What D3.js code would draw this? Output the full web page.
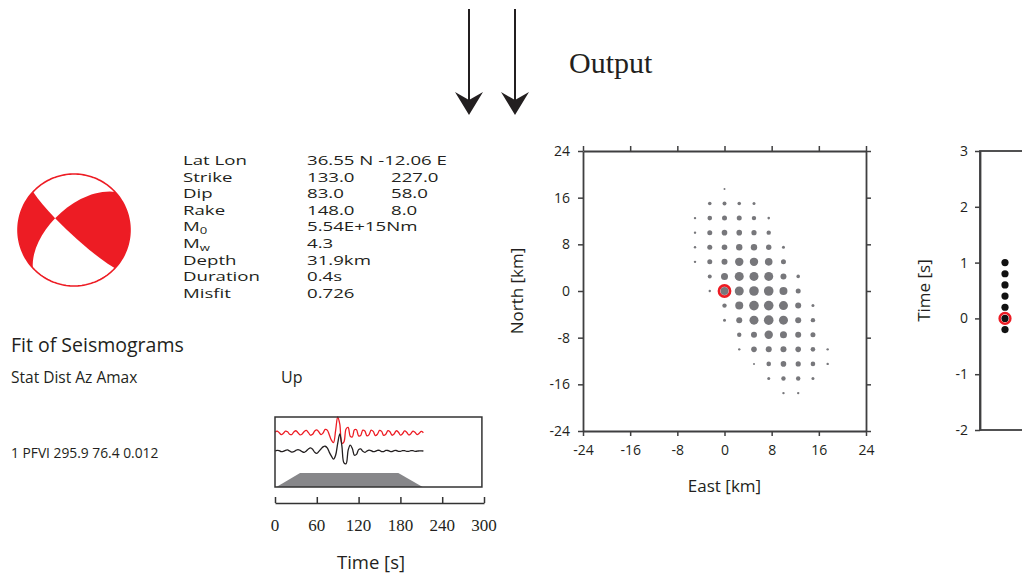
<!DOCTYPE html>
<html><head><meta charset="utf-8">
<script src="https://cdn.jsdelivr.net/npm/d3@7"></script>
<style>
html,body{margin:0;padding:0;background:#fff;}
svg{display:block;}
text{font-family:"Open Sans",sans-serif;fill:#231f20;}
.serif{font-family:"Liberation Serif","DejaVu Serif",serif;}
</style></head><body>
<svg id="chart" width="1022" height="576"></svg>
<script>
// ---------------- DATA ----------------
const strikeA = 133.0, dipA = 83.0, rakeA = 148.0;
const infoLabels = ["Lat Lon","Strike","Dip","Rake","M|0","M|w","Depth","Duration","Misfit"];
const infoValues = ["36.55 N -12.06 E","133.0","83.0","148.0","5.54E+15Nm","4.3","31.9km","0.4s","0.726"];
const infoValues2 = ["","227.0","58.0","8.0","","","","",""];

const stationHeader = "Stat Dist Az Amax";
const stationRow = "1 PFVI 295.9 76.4 0.012";
const componentName = "Up";

// seismograms, sampled every 3 s from 0 s (normalised amplitude)
const sampleStep = 3;
const synthTrace = [0.05,0.12,0.02,-0.10,-0.02,0.12,0.08,-0.08,-0.10,0.06,0.14,0.02,-0.12,-0.06,0.10,0.16,0.02,-0.14,-0.08,0.12,
  0.20,0.06,-0.10,0.00,0.22,0.18,-0.12,-0.45,-0.60,0.15,1.00,0.55,-0.65,-0.55,0.25,0.35,-0.20,-0.25,0.20,0.20,
  -0.18,-0.15,0.18,0.12,-0.18,-0.10,0.18,0.10,-0.16,-0.08,0.16,0.10,-0.15,-0.08,0.15,0.08,-0.14,-0.06,0.14,0.06,
  -0.13,-0.05,0.13,0.05,-0.12,-0.04,0.12,0.04,-0.10,-0.02,0.10,0.02];
const obsTrace = [0.00,0.04,0.02,-0.04,-0.02,0.04,0.06,0.00,-0.06,-0.04,0.04,0.08,0.04,-0.04,-0.08,0.00,0.12,0.18,0.10,-0.08,
  -0.14,-0.02,0.12,0.24,0.28,0.18,-0.08,-0.30,-0.48,-0.25,0.45,1.00,0.30,-0.70,-0.75,0.05,0.35,0.15,-0.25,-0.20,
  0.08,0.12,-0.02,-0.08,0.00,0.05,0.02,-0.04,-0.02,0.04,0.03,-0.03,-0.03,0.03,0.03,-0.02,-0.03,0.02,0.03,-0.02,
  -0.02,0.02,0.02,-0.02,-0.02,0.02,0.02,-0.02,-0.01,0.01,0.01,0.00];
const windowTimes = [2, 36, 177, 212];
const windowLevels = [0, 1, 1, 0];
const timeTicks = [0, 60, 120, 180, 240, 300];

// location grid search (East, North in km; weight ~ relative fit)
const gridEast = [-5,-2.5,0,2.5,5,7.5,10,12.5,15,17.5];
const gridNorth = [17.5,15,12.5,10,7.5,5,2.5,0,-2.5,-5,-7.5,-10,-12.5,-15,-17.5];
const gridWeight = [
  [ 0, 0,10, 0, 0, 0, 0, 0, 0, 0],
  [ 0,18,20,18,15, 0, 0, 0, 0, 0],
  [12,23,25,25,22,13, 0, 0, 0, 0],
  [12,25,28,28,26,22, 0, 0, 0, 0],
  [12,25,28,32,32,27,15, 0, 0, 0],
  [12,25,30,42,42,38,25, 0, 0, 0],
  [ 0,20,35,45,45,45,30,18, 0, 0],
  [ 0,12,40,45,48,48,40,25, 0, 0],
  [ 0, 0,22,40,48,48,45,30,15, 0],
  [ 0, 0,15,30,45,48,45,30,22, 0],
  [ 0, 0, 0,22,30,42,35,30,25, 0],
  [ 0, 0, 0,12,28,30,30,28,23,12],
  [ 0, 0, 0, 0,10,23,28,26,23,12],
  [ 0, 0, 0, 0, 0,15,22,22,15, 0],
  [ 0, 0, 0, 0, 0, 0,12,12, 0, 0]];
const bestEast = 0, bestNorth = 0;
const mapTicks = [-24,-16,-8,0,8,16,24];

// origin time search
const timeShifts = [1.0, 0.8, 0.6, 0.4, 0.2, 0.0, -0.2];
const bestTimeShift = 0.0;
const timeAxisTicks = [3,2,1,0,-1,-2];

// ---------------- DRAWING ----------------
const svg = d3.select("#chart");
const RED = "#ed1c24", INK = "#231f20", AX = "#3f3f40";
const plainNum = v => String(v);

// Arrows + "Output"
[469, 515].forEach(x => {
  svg.append("line").attr("x1", x).attr("x2", x).attr("y1", 9).attr("y2", 104)
    .attr("stroke", INK).attr("stroke-width", 2);
  svg.append("path").attr("d", `M${x},115 L${x-14},92 L${x},100 L${x+14},92 Z`).attr("fill", INK);
});
svg.append("text").attr("class","serif").attr("x", 569).attr("y", 73).attr("font-size", 30).text("Output");

// Beachball
const rad = Math.PI / 180;
const f = strikeA*rad, d = dipA*rad, l = rakeA*rad;
const nVec = [-Math.sin(d)*Math.sin(f), Math.sin(d)*Math.cos(f), -Math.cos(d)];
const sVec = [Math.cos(l)*Math.cos(f) + Math.sin(l)*Math.cos(d)*Math.sin(f),
              Math.cos(l)*Math.sin(f) - Math.sin(l)*Math.cos(d)*Math.cos(f),
              -Math.sin(l)*Math.sin(d)];
const cross = (a,b) => [a[1]*b[2]-a[2]*b[1], a[2]*b[0]-a[0]*b[2], a[0]*b[1]-a[1]*b[0]];
const neg = a => a.map(v => -v);
const bVec = cross(nVec, sVec);
const toLonLat = v => { const r = Math.hypot(...v); return [180 - Math.atan2(v[1], v[0])/rad, Math.asin(v[2]/r)/rad]; };
function lune(a,b,c,e){
  const ring = [a,b,c,e,a].map(toLonLat);
  const g = {type:"Polygon", coordinates:[ring]};
  if (d3.geoArea(g) > 2*Math.PI) g.coordinates = [ring.slice().reverse()];
  return g;
}
const R = 56;
const proj = d3.geoAzimuthalEqualArea().rotate([0,-90]).clipAngle(90)
  .scale(R/Math.SQRT2).translate([74, 230]).precision(0.1);
const gp = d3.geoPath(proj);
const bb = svg.append("g");
bb.append("path").attr("d", gp({type:"Sphere"})).attr("fill", "#fff");
[lune(bVec, sVec, neg(bVec), nVec), lune(bVec, neg(sVec), neg(bVec), neg(nVec))].forEach(g => {
  bb.append("path").attr("d", gp(g)).attr("fill", RED);
});
bb.append("path").attr("d", gp({type:"Sphere"})).attr("fill", "none").attr("stroke", RED).attr("stroke-width", 1.6);

// Info block (wide lettering)
const info = svg.append("g");
const lineStep = 16.6, firstBase = 165, infoFont = 13.5;
const probe = info.append("text").attr("font-size", infoFont).text(infoLabels[0]);
const sx = 64 / probe.node().getComputedTextLength();
probe.remove();
const infoG = info.append("g").attr("transform", `translate(183,0) scale(${sx},1)`);
infoLabels.forEach((lab, i) => {
  const t = infoG.append("text").attr("x", 0).attr("y", firstBase + i*lineStep).attr("font-size", infoFont);
  const parts = lab.split("|");
  t.append("tspan").text(parts[0]);
  if (parts[1]) t.append("tspan").attr("dy", 3).attr("font-size", 9.5).text(parts[1]);
  infoG.append("text").attr("x", (307-183)/sx).attr("y", firstBase + i*lineStep).attr("font-size", infoFont).text(infoValues[i]);
  if (infoValues2[i]) infoG.append("text").attr("x", (391-183)/sx).attr("y", firstBase + i*lineStep).attr("font-size", infoFont).text(infoValues2[i]);
});

// Fit of seismograms texts
svg.append("text").attr("x", 11).attr("y", 352).attr("font-size", 19.5).text("Fit of Seismograms");
svg.append("text").attr("x", 11).attr("y", 383).attr("font-size", 15.5).text(stationHeader);
svg.append("text").attr("x", 11).attr("y", 458).attr("font-size", 13.8).text(stationRow);
svg.append("text").attr("x", 281).attr("y", 383).attr("font-size", 16).text(componentName);

// Seismogram panel
const tx = d3.scaleLinear().domain([0,300]).range([275,484]);
const ampRed = d3.scaleLinear().domain([-1,1]).range([449,417]);
const ampBlk = d3.scaleLinear().domain([-1,1]).range([468,434]);
const winY = d3.scaleLinear().domain([0,1]).range([487,473]);
const seis = svg.append("g");
seis.append("path")
  .datum(windowTimes.map((t,i) => [t, windowLevels[i]]))
  .attr("d", d3.line().x(p => tx(p[0])).y(p => winY(p[1])))
  .attr("fill", "#87878a").attr("stroke", "none");
seis.append("path").datum(synthTrace)
  .attr("d", d3.line().x((v,i) => tx(i*sampleStep)).y(v => ampRed(v)).curve(d3.curveCatmullRom))
  .attr("fill", "none").attr("stroke", RED).attr("stroke-width", 1.3);
seis.append("path").datum(obsTrace)
  .attr("d", d3.line().x((v,i) => tx(i*sampleStep)).y(v => ampBlk(v)).curve(d3.curveCatmullRom))
  .attr("fill", "none").attr("stroke", INK).attr("stroke-width", 1.3);
seis.append("rect").attr("x", tx(0)).attr("y", 417).attr("width", tx(297)-tx(0)).attr("height", 70)
  .attr("fill", "none").attr("stroke", "#333").attr("stroke-width", 1.5);
const tAxis = seis.append("g").attr("transform", "translate(0,503)")
  .call(d3.axisTop(tx).tickValues(timeTicks).tickSize(6).tickSizeOuter(0).tickFormat(""));
tAxis.selectAll("path,line").attr("stroke", "#333").attr("stroke-width", 1.5);
timeTicks.forEach(v => {
  seis.append("text").attr("class","serif").attr("x", tx(v)).attr("y", 531).attr("text-anchor","middle")
    .attr("font-size", 17).text(v);
});
svg.append("text").attr("x", 371).attr("y", 569).attr("text-anchor","middle").attr("font-size", 18.5).text("Time [s]");

// Location map
const mx = d3.scaleLinear().domain([-24,24]).range([583,866]);
const my = d3.scaleLinear().domain([-24,24]).range([431,151]);
const rr = d3.scaleLinear().domain([0,50]).range([0,5]);
const map = svg.append("g");
function styleAxis(g){
  g.selectAll("path.domain").attr("stroke", AX).attr("stroke-width", 1.8);
  g.selectAll("line").attr("stroke", AX).attr("stroke-width", 1.5);
  g.selectAll("text").attr("font-size", 14).attr("fill", "#2a2a2a").attr("font-family", '"Open Sans",sans-serif');
}
map.append("g").attr("transform", `translate(0,${my(-24)})`)
  .call(d3.axisBottom(mx).tickValues(mapTicks).tickSize(5).tickSizeOuter(0).tickPadding(9).tickFormat(plainNum)).call(styleAxis);
map.append("g").attr("transform", `translate(0,${my(24)})`)
  .call(d3.axisTop(mx).tickValues(mapTicks).tickSize(5).tickSizeOuter(0).tickFormat("")).call(styleAxis);
map.append("g").attr("transform", `translate(${mx(-24)},0)`)
  .call(d3.axisLeft(my).tickValues(mapTicks).tickSize(5).tickSizeOuter(0).tickPadding(8).tickFormat(plainNum)).call(styleAxis);
map.append("g").attr("transform", `translate(${mx(24)},0)`)
  .call(d3.axisRight(my).tickValues(mapTicks).tickSize(5).tickSizeOuter(0).tickFormat("")).call(styleAxis);
const cells = [];
gridNorth.forEach((n, i) => gridEast.forEach((e, j) => { if (gridWeight[i][j] > 0) cells.push({e, n, w: gridWeight[i][j]}); }));
map.selectAll("circle.cell").data(cells).join("circle").attr("class","cell")
  .attr("cx", c => mx(c.e)).attr("cy", c => my(c.n)).attr("r", c => rr(c.w)).attr("fill", "#77777b");
map.append("circle").attr("cx", mx(bestEast)).attr("cy", my(bestNorth)).attr("r", 5.6)
  .attr("fill", "none").attr("stroke", RED).attr("stroke-width", 2.6);
map.append("text").attr("text-anchor","middle").attr("font-size", 17)
  .attr("transform", `translate(523,${my(0)}) rotate(-90)`).text("North [km]");
map.append("text").attr("text-anchor","middle").attr("font-size", 17)
  .attr("x", mx(0)).attr("y", 492).text("East [km]");

// Origin-time panel
const ty = d3.scaleLinear().domain([-2,3]).range([430,151]);
const tp = svg.append("g");
tp.append("rect").attr("x", 980).attr("y", ty(3)).attr("width", 200).attr("height", ty(-2)-ty(3))
  .attr("fill", "none").attr("stroke", AX).attr("stroke-width", 1.8);
tp.append("g").attr("transform", "translate(980,0)")
  .call(d3.axisLeft(ty).tickValues(timeAxisTicks).tickSize(5).tickSizeOuter(0).tickPadding(7).tickFormat(plainNum))
  .call(styleAxis);
const shiftX = d3.scalePoint().domain(["best"]).range([1005,1005]);
tp.selectAll("circle.ts").data(timeShifts).join("circle").attr("class","ts")
  .attr("cx", shiftX("best")).attr("cy", v => ty(v)).attr("r", 3.6).attr("fill", "#111");
tp.append("circle").attr("cx", shiftX("best")).attr("cy", ty(bestTimeShift)).attr("r", 5.4)
  .attr("fill", "none").attr("stroke", RED).attr("stroke-width", 2.4);
tp.append("text").attr("text-anchor","middle").attr("font-size", 17)
  .attr("transform", `translate(930,${ty(0.5)}) rotate(-90)`).text("Time [s]");
</script>
</body></html>
